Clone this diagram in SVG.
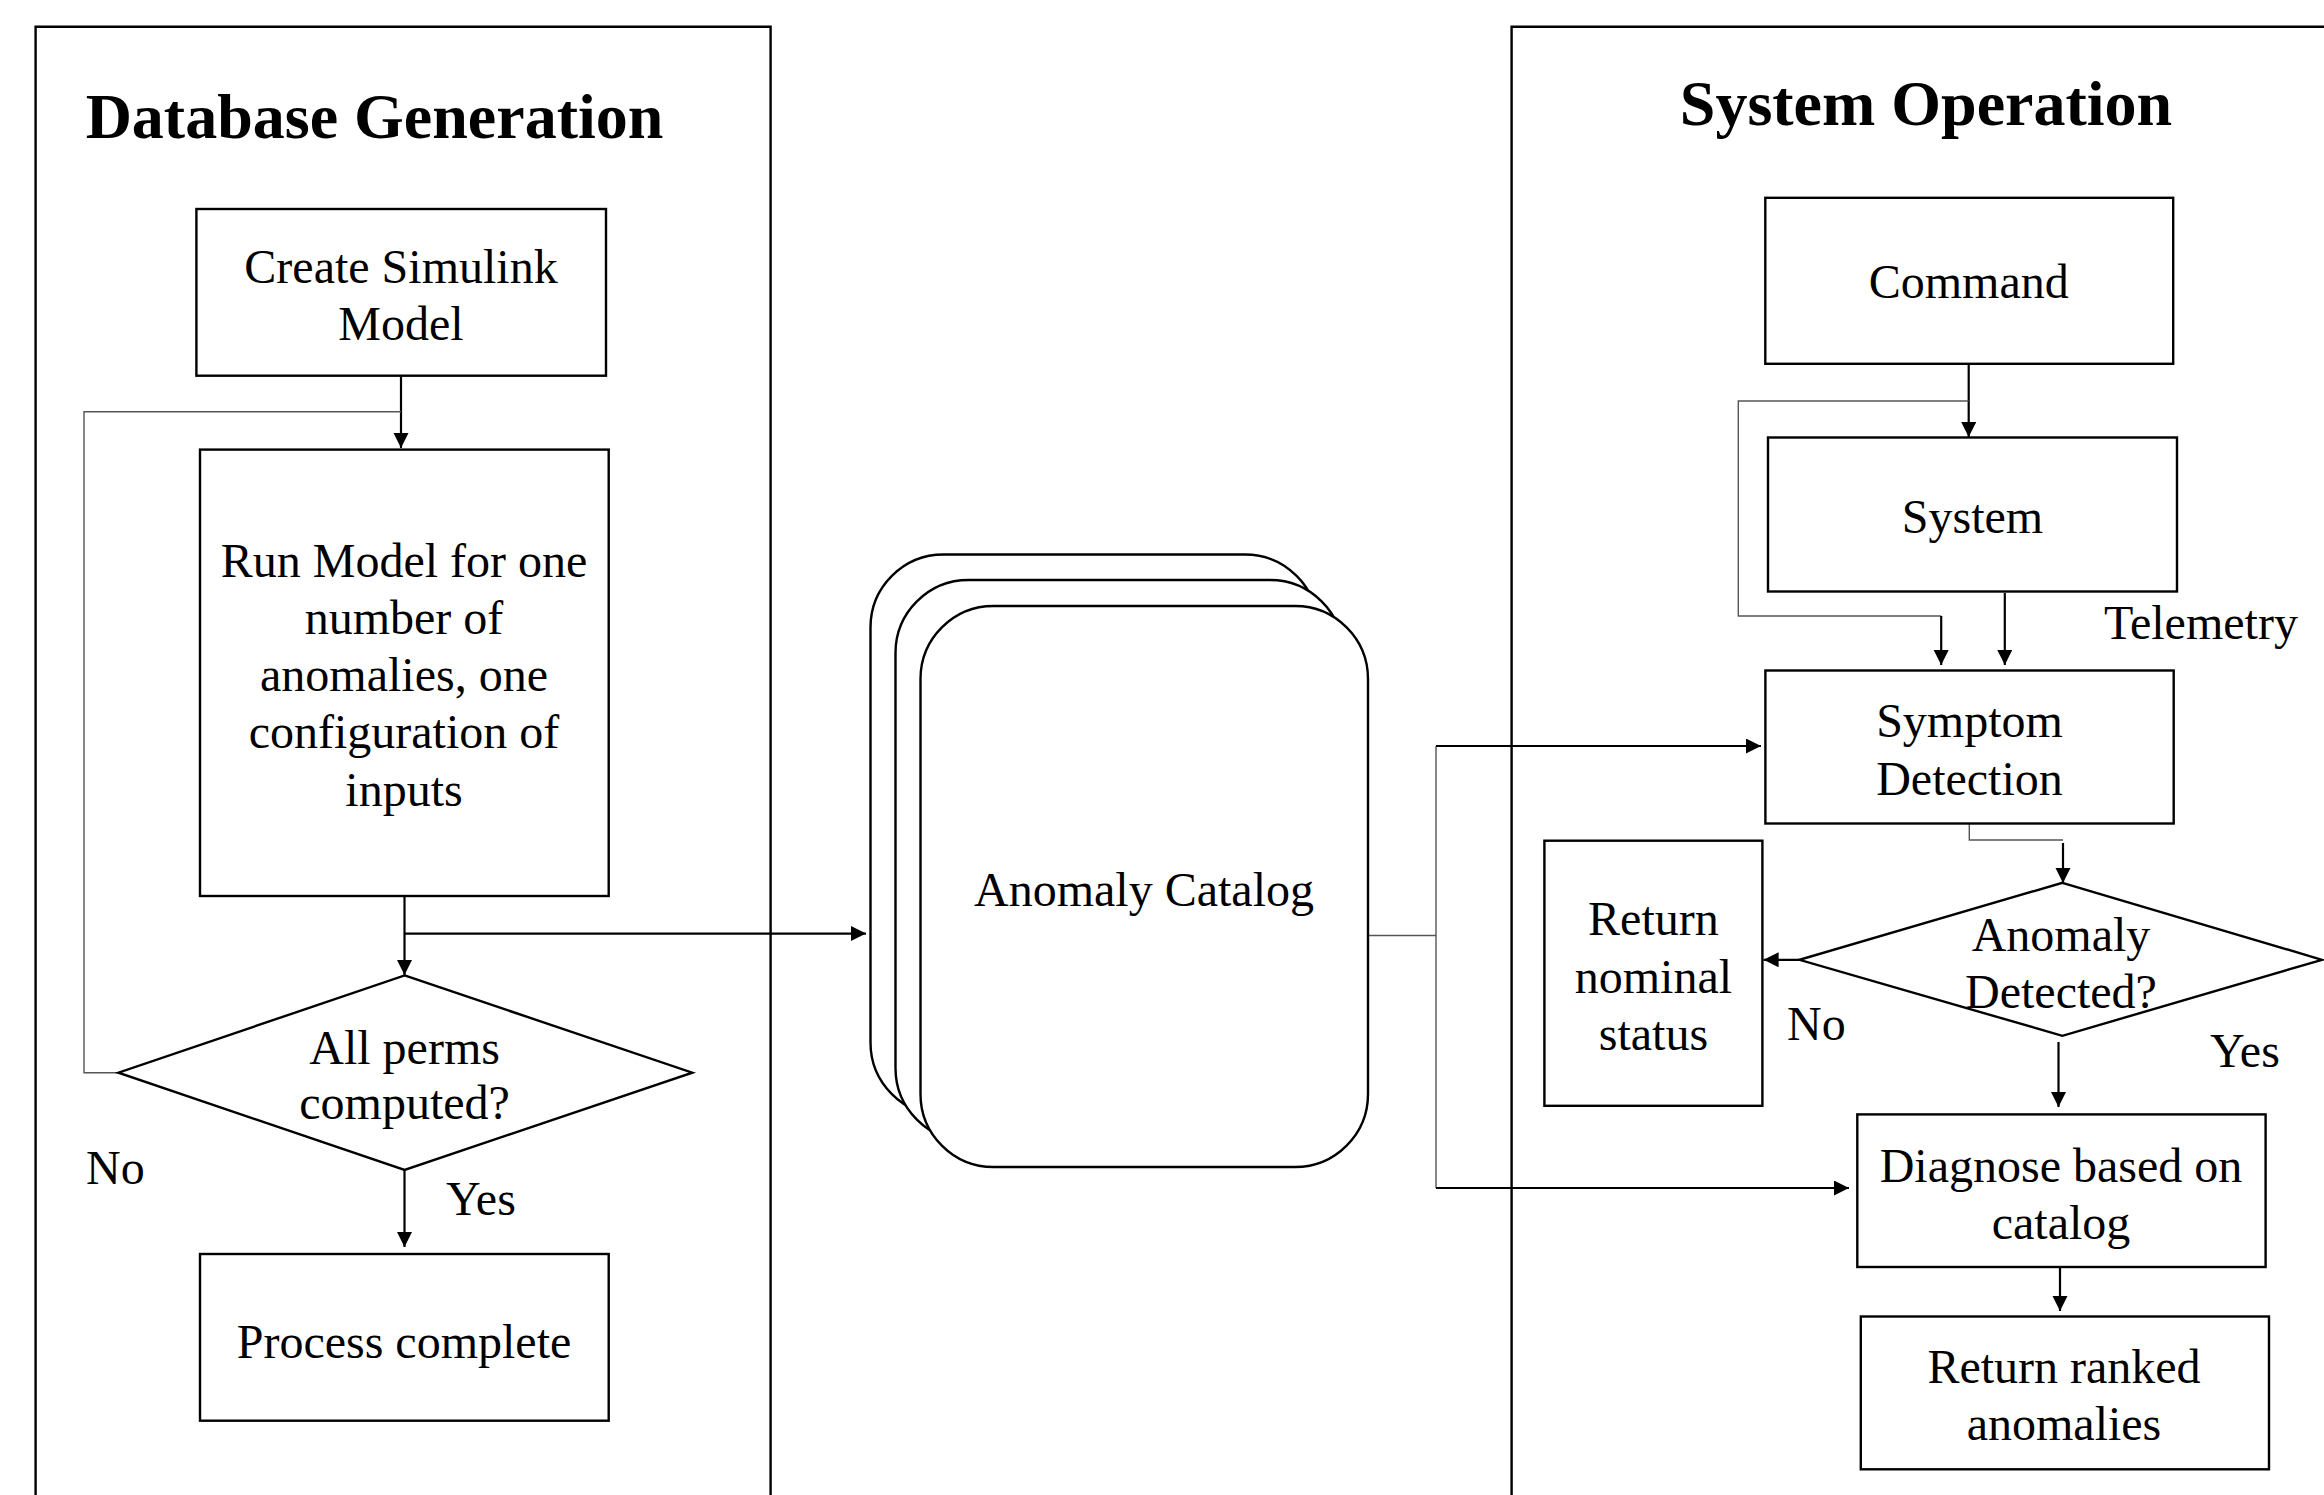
<svg xmlns="http://www.w3.org/2000/svg" width="2324" height="1495" viewBox="0 0 2324 1495">
<style>
.box{fill:#fff;stroke:#000;stroke-width:2.4}
.panel{fill:none;stroke:#000;stroke-width:2.4}
.cat{fill:#fff;stroke:#000;stroke-width:2.4}
.t{font-family:"Liberation Serif","Times New Roman",serif;font-size:48px;fill:#000}
.c{text-anchor:middle}
.title{font-family:"Liberation Serif","Times New Roman",serif;font-size:64px;font-weight:bold;fill:#000;text-anchor:middle}
.arr{fill:none;stroke:#000;stroke-width:2.2;marker-end:url(#ah)}
.ln{fill:none;stroke:#000;stroke-width:2.2}
.thin{fill:none;stroke:#555;stroke-width:1.4}
</style>
<defs>
<marker id="ah" markerUnits="userSpaceOnUse" markerWidth="16" markerHeight="16" refX="15" refY="7.5" orient="auto">
<path d="M0,0 L15,7.5 L0,15 z" fill="#000"/>
</marker>
</defs>
<rect width="2324" height="1495" fill="#fff"/>

<g id="panel-database-generation">
<path class="panel" d="M35.6,1500 V26.7 H770.6 V1500"/>
<text class="title" x="374.5" y="138">Database Generation</text>
</g>
<g id="panel-system-operation">
<path class="panel" d="M1511.6,1500 V26.7 H2330"/>
<text class="title" x="1926" y="125">System Operation</text>
</g>

<g id="connectors">
<line class="arr" x1="401" y1="376" x2="401" y2="448"/>
<polyline class="thin" points="118,1072.7 84,1072.7 84,411.7 401,411.7"/>
<line class="arr" x1="404.5" y1="896" x2="404.5" y2="975"/>
<line class="arr" x1="404.5" y1="933.6" x2="866" y2="933.6"/>
<line class="arr" x1="404.5" y1="1170" x2="404.5" y2="1247"/>
<line class="thin" x1="1368" y1="935.5" x2="1436" y2="935.5"/>
<line class="thin" x1="1436" y1="746" x2="1436" y2="1188"/>
<line class="arr" x1="1436" y1="746" x2="1761" y2="746"/>
<line class="arr" x1="1436" y1="1188" x2="1849" y2="1188"/>
<line class="arr" x1="1968.7" y1="364" x2="1968.7" y2="437"/>
<polyline class="thin" points="1968.7,401 1738.3,401 1738.3,616 1941.2,616"/>
<line class="arr" x1="1941.2" y1="616" x2="1941.2" y2="665"/>
<line class="arr" x1="2004.8" y1="593" x2="2004.8" y2="665"/>
<polyline class="thin" points="1969.3,824 1969.3,840 2063,840"/>
<line class="arr" x1="2063" y1="843" x2="2063" y2="883"/>
<line class="arr" x1="1799.5" y1="959.8" x2="1763.6" y2="959.8"/>
<line class="arr" x1="2058.5" y1="1042" x2="2058.5" y2="1107"/>
<line class="arr" x1="2060" y1="1267" x2="2060" y2="1311"/>
</g>

<g id="create-simulink-model">
<rect class="box" x="196.4" y="209" width="409.6" height="166.7"/>
<text class="t c" x="401" y="282.5">Create Simulink</text>
<text class="t c" x="401" y="340">Model</text>
</g>
<g id="run-model">
<rect class="box" x="200" y="449.6" width="408.7" height="446.4"/>
<text class="t c" x="404" y="577">Run Model for one</text>
<text class="t c" x="404" y="634">number of</text>
<text class="t c" x="404" y="691">anomalies, one</text>
<text class="t c" x="404" y="748">configuration of</text>
<text class="t c" x="404" y="806">inputs</text>
</g>
<g id="all-perms-computed">
<polygon class="box" points="404.6,975.4 692.3,1072.7 404.6,1170 118.4,1072.7"/>
<text class="t c" x="404.6" y="1064">All perms</text>
<text class="t c" x="404.6" y="1119">computed?</text>
</g>
<g id="label-no-left"><text class="t" x="86" y="1184">No</text></g>
<g id="label-yes-left"><text class="t" x="446" y="1215">Yes</text></g>
<g id="process-complete">
<rect class="box" x="200" y="1254" width="408.7" height="166.7"/>
<text class="t c" x="404" y="1358">Process complete</text>
</g>

<g id="anomaly-catalog">
<rect class="cat" x="870.5" y="554.5" width="447.5" height="561" rx="73" ry="73"/>
<rect class="cat" x="895.5" y="580" width="447.5" height="561" rx="73" ry="73"/>
<rect class="cat" x="920.5" y="606" width="447.5" height="561" rx="73" ry="73"/>
<text class="t c" x="1144" y="906">Anomaly Catalog</text>
</g>

<g id="command">
<rect class="box" x="1765.3" y="197.8" width="407.9" height="166"/>
<text class="t c" x="1968.7" y="298">Command</text>
</g>
<g id="system">
<rect class="box" x="1768" y="437.5" width="409" height="154"/>
<text class="t c" x="1972.5" y="533">System</text>
</g>
<g id="label-telemetry"><text class="t" x="2104" y="639">Telemetry</text></g>
<g id="symptom-detection">
<rect class="box" x="1765.4" y="670.5" width="408.3" height="153"/>
<text class="t c" x="1969.5" y="737">Symptom</text>
<text class="t c" x="1969.5" y="795">Detection</text>
</g>
<g id="return-nominal-status">
<rect class="box" x="1544.4" y="840.7" width="218" height="265.1"/>
<text class="t c" x="1653.4" y="935">Return</text>
<text class="t c" x="1653.4" y="992.5">nominal</text>
<text class="t c" x="1653.4" y="1049.6">status</text>
</g>
<g id="anomaly-detected">
<polygon class="box" points="2062.4,882.8 2322,959.8 2062.4,1035.8 1799.5,959.8"/>
<text class="t c" x="2061" y="951">Anomaly</text>
<text class="t c" x="2061" y="1007.6">Detected?</text>
</g>
<g id="label-no-right"><text class="t" x="1787" y="1040">No</text></g>
<g id="label-yes-right"><text class="t" x="2210" y="1067">Yes</text></g>
<g id="diagnose">
<rect class="box" x="1857.3" y="1114.4" width="408.3" height="152.6"/>
<text class="t c" x="2061" y="1182">Diagnose based on</text>
<text class="t c" x="2061" y="1239">catalog</text>
</g>
<g id="return-ranked-anomalies">
<rect class="box" x="1860.8" y="1316.5" width="408.2" height="152.8"/>
<text class="t c" x="2064" y="1383">Return ranked</text>
<text class="t c" x="2064" y="1440">anomalies</text>
</g>
</svg>
